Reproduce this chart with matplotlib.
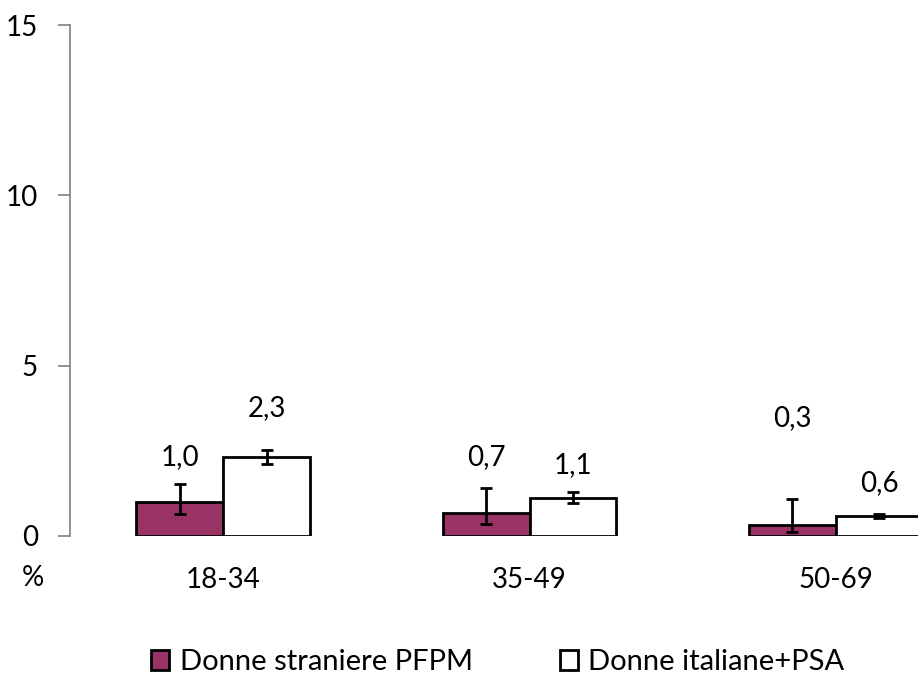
import matplotlib.pyplot as plt
import numpy as np

plt.rcParams['font.family'] = ['Lato', 'DejaVu Sans']

# dati
classi = ["18-34", "35-49", "50-69"]
straniere = [1.0, 0.68, 0.32]
straniere_lo = [0.65, 0.35, 0.12]
straniere_hi = [1.53, 1.41, 1.10]
italiane = [2.32, 1.12, 0.59]
italiane_lo = [2.11, 0.97, 0.53]
italiane_hi = [2.52, 1.29, 0.65]
etich_str = ["1,0", "0,7", "0,3"]
etich_ita = ["2,3", "1,1", "0,6"]
serie = ["Donne straniere PFPM", "Donne italiane+PSA"]

# posizione verticale delle etichette (come nel grafico originale)
pos_lab_str = [2.32, 2.32, 3.46]
pos_lab_ita = [3.76, 2.08, 1.56]

fig = plt.figure(figsize=(9.18, 6.79), dpi=100)
ax = fig.add_axes([70/918, 1 - 536/679, 919/918, 511/679])

x = np.arange(len(classi))
w = 0.283
s = np.array(straniere)
i = np.array(italiane)
err_s = [s - np.array(straniere_lo), np.array(straniere_hi) - s]
err_i = [i - np.array(italiane_lo), np.array(italiane_hi) - i]

ax.bar(x - w/2, s, w, color="#993366", edgecolor="black", linewidth=2, label=serie[0],
       yerr=err_s, error_kw=dict(ecolor="black", elinewidth=2, capsize=4, capthick=2))
ax.bar(x + w/2, i, w, color="white", edgecolor="black", linewidth=2, label=serie[1],
       yerr=err_i, error_kw=dict(ecolor="black", elinewidth=2, capsize=4, capthick=2))

for k in range(len(classi)):
    ax.text(x[k] - w/2, pos_lab_str[k], etich_str[k], ha="center", va="center", fontsize=20)
    ax.text(x[k] + w/2, pos_lab_ita[k], etich_ita[k], ha="center", va="center", fontsize=20)

ax.set_xlim(-0.5, 2.5)
ax.set_ylim(0, 15)
ax.set_yticks([0, 5, 10, 15])
ax.set_xticks(x)
ax.set_xticklabels(classi, fontsize=20)
ax.tick_params(axis="x", length=0, pad=22)
ax.tick_params(axis="y", length=9, width=1.2, color="#808080", labelsize=20, pad=14)
for sp in ["top", "right", "bottom"]:
    ax.spines[sp].set_visible(False)
ax.spines["left"].set_color("#808080")
ax.spines["left"].set_linewidth(1.2)

fig.text(33/918, 1 - 578/679, "%", ha="center", va="center", fontsize=20)

fig.legend(loc="center", bbox_to_anchor=(498/918, 1 - 662/679), ncol=2, frameon=False,
           fontsize=21, handlelength=0.62, handleheight=0.7, handletextpad=0.35,
           columnspacing=3.0)

plt.savefig("out.png", dpi=100)
